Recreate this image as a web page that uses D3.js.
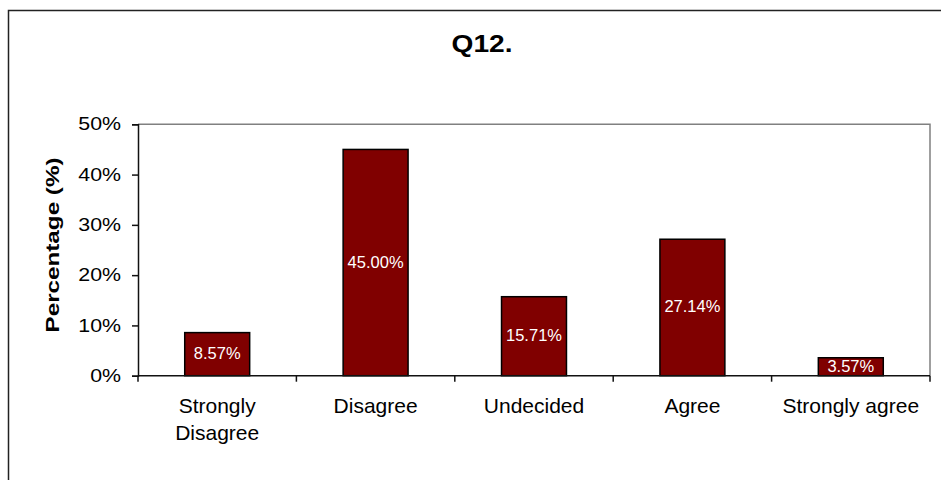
<!DOCTYPE html>
<html>
<head>
<meta charset="utf-8">
<script src="https://cdn.jsdelivr.net/npm/d3@7"></script>
<style>
  html, body { margin: 0; padding: 0; background: #fff; }
  svg { display: block; font-family: "Liberation Sans", Arial, sans-serif; }
</style>
</head>
<body>
<svg id="chart" width="941" height="480"></svg>
<script>
const categories = ["Strongly Disagree", "Disagree", "Undecided", "Agree", "Strongly agree"];
const values = [8.57, 45.00, 15.71, 27.14, 3.57];
const yTicks = [0, 10, 20, 30, 40, 50];
const titleText = "Q12.";
const yLabelText = "Percentage (%)";

const svg = d3.select("#chart");
const W = 941, H = 480;
const plot = { left: 138, right: 930, top: 124.3, bottom: 375.7 };

svg.append("rect").attr("width", W).attr("height", H).attr("fill", "#fff");
// outer chart border (extends beyond the right/bottom edges)
svg.append("rect")
  .attr("x", 8.5).attr("y", 10.5).attr("width", W + 20).attr("height", H + 20)
  .attr("fill", "none").attr("stroke", "#222").attr("stroke-width", 1.5);

const x = d3.scaleBand().domain(categories)
  .range([plot.left, plot.right])
  .paddingInner(0.59).paddingOuter(0.295);
const y = d3.scaleLinear().domain([0, 50]).range([plot.bottom, plot.top]);

// plot area border (top and right, gray)
svg.append("path")
  .attr("d", `M${plot.left},${plot.top}H${plot.right}V${plot.bottom}`)
  .attr("fill", "none").attr("stroke", "#808080").attr("stroke-width", 1.5);

// bars
svg.append("g").selectAll("rect").data(categories).join("rect")
  .attr("x", d => x(d))
  .attr("y", (d, i) => y(values[i]))
  .attr("width", x.bandwidth())
  .attr("height", (d, i) => y(0) - y(values[i]))
  .attr("fill", "#800000")
  .attr("stroke", "#000").attr("stroke-width", 1.5);

// data labels
svg.append("g").selectAll("text").data(categories).join("text")
  .attr("x", d => x(d) + x.bandwidth() / 2)
  .attr("y", (d, i) => (y(values[i]) + y(0)) / 2)
  .attr("dy", "0.3em")
  .attr("text-anchor", "middle")
  .attr("fill", "#fff")
  .attr("font-size", 16.5)
  .text((d, i) => values[i].toFixed(2) + "%");

// y axis
const yAxis = svg.append("g")
  .attr("transform", `translate(${plot.left},0)`)
  .call(d3.axisLeft(y).tickValues(yTicks).tickFormat(d => d + "%").tickSize(6).tickPadding(11));
yAxis.select(".domain").attr("stroke", "#111").attr("stroke-width", 1.5);
yAxis.selectAll(".tick line").attr("stroke", "#111").attr("stroke-width", 1.5);
yAxis.selectAll(".tick text")
  .attr("font-size", 17.5).attr("fill", "#000")
  .attr("font-family", "'Liberation Sans', Arial, sans-serif")
  .each(function () {
    const len = this.getComputedTextLength();
    d3.select(this).attr("textLength", len * 1.22).attr("lengthAdjust", "spacingAndGlyphs");
  });

// x axis: line + boundary ticks
const step = x.step();
const boundaries = d3.range(categories.length + 1).map(i => plot.left + i * step);
svg.append("line")
  .attr("x1", plot.left).attr("x2", plot.right)
  .attr("y1", plot.bottom).attr("y2", plot.bottom)
  .attr("stroke", "#111").attr("stroke-width", 1.5);
svg.append("g").selectAll("line").data(boundaries).join("line")
  .attr("x1", d => d).attr("x2", d => d)
  .attr("y1", plot.bottom).attr("y2", plot.bottom + 6)
  .attr("stroke", "#111").attr("stroke-width", 1.5);

// category labels (wrapped when wider than the band step)
const catG = svg.append("g");
categories.forEach(c => {
  const cx = x(c) + x.bandwidth() / 2;
  const t = catG.append("text")
    .attr("x", cx).attr("y", 413)
    .attr("text-anchor", "middle")
    .attr("font-size", 21).attr("fill", "#000")
    .text(c);
  if (t.node().getComputedTextLength() > step) {
    const words = c.split(" ");
    t.text(null);
    words.forEach((w, i) => {
      t.append("tspan").attr("x", cx).attr("dy", i === 0 ? 0 : 27).text(w);
    });
  }
});

// title
svg.append("text")
  .attr("x", 482).attr("y", 52)
  .attr("text-anchor", "middle")
  .attr("font-size", 23).attr("font-weight", "bold").attr("fill", "#000")
  .attr("textLength", 61).attr("lengthAdjust", "spacingAndGlyphs")
  .text(titleText);

// y axis title
svg.append("text")
  .attr("transform", "translate(59,245) rotate(-90)")
  .attr("text-anchor", "middle")
  .attr("font-size", 18.5).attr("font-weight", "bold").attr("fill", "#000")
  .attr("textLength", 175).attr("lengthAdjust", "spacingAndGlyphs")
  .text(yLabelText);
</script>
</body>
</html>
